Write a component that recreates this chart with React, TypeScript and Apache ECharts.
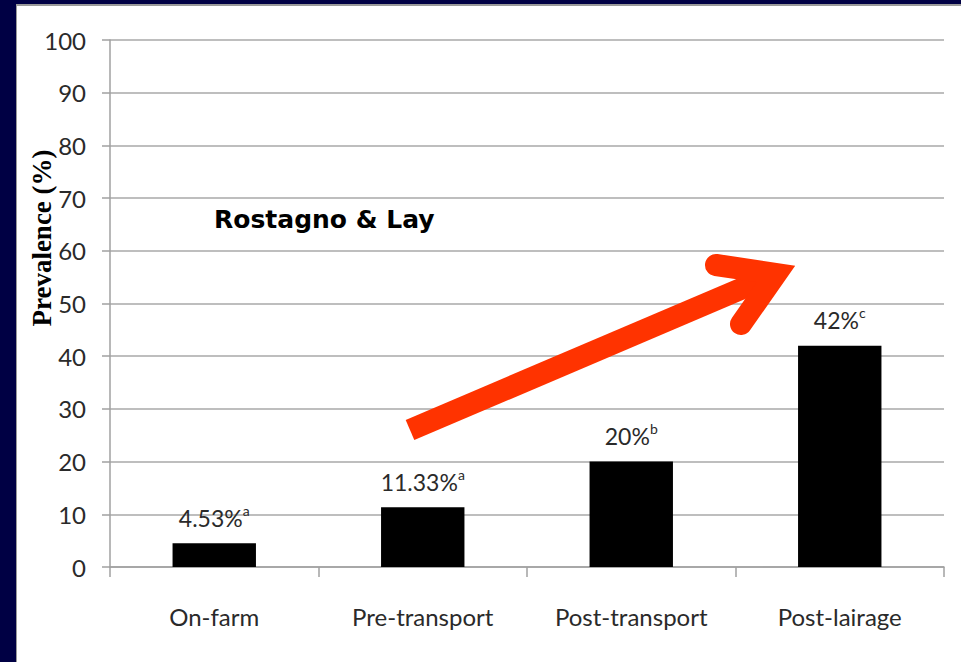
import React, { useEffect, useRef } from "react";
import * as echarts from "echarts";

const categories = ["On-farm", "Pre-transport", "Post-transport", "Post-lairage"];
const values = [4.53, 11.33, 20, 42];
const letters = ["a", "a", "b", "c"];
const yTicks = { min: 0, max: 100, interval: 10 };
const yAxisTitle = "Prevalence (%)";
const noteText = "Rostagno & Lay";

const FONT = "Lato, 'Open Sans', sans-serif";

export default function App() {
  const ref = useRef<HTMLDivElement>(null);
  useEffect(() => {
    document.body.style.margin = "0";
    if (!ref.current) return;
    const chart = echarts.init(ref.current, undefined, { renderer: "svg" });
    chart.setOption({
      animation: false,
      backgroundColor: "transparent",
      grid: { left: 110, right: 17, top: 40, bottom: 95 },
      xAxis: {
        type: "category",
        data: categories,
        axisLine: { show: true, lineStyle: { color: "#a0a0a0", width: 1.5 } },
        axisTick: { show: true, length: 10, lineStyle: { color: "#a0a0a0", width: 1.5 } },
        axisLabel: { color: "#2a2a2a", fontFamily: FONT, fontSize: 24, margin: 37 },
      },
      yAxis: {
        type: "value",
        min: yTicks.min,
        max: yTicks.max,
        interval: yTicks.interval,
        axisLine: { show: true, lineStyle: { color: "#a0a0a0", width: 1.5 } },
        axisTick: { show: true, length: 8, lineStyle: { color: "#a0a0a0", width: 1.5 } },
        axisLabel: { color: "#2a2a2a", fontFamily: FONT, fontSize: 24, margin: 24 },
        splitLine: { show: true, lineStyle: { color: "#a8a8a8", width: 1.5 } },
      },
      series: [
        {
          type: "bar",
          data: values,
          barWidth: "40%",
          itemStyle: { color: "#000" },
          label: {
            show: true,
            position: "top",
            distance: 14,
            formatter: (p: any) => `{v|${values[p.dataIndex]}%}{s|${letters[p.dataIndex]}}`,
            rich: {
              v: { fontFamily: FONT, fontSize: 23, color: "#2a2a2a", lineHeight: 26, verticalAlign: "bottom" },
              s: { fontFamily: FONT, fontSize: 14, color: "#2a2a2a", lineHeight: 14, verticalAlign: "top" },
            },
          },
        },
      ],
      graphic: [
        {
          type: "text",
          x: 42,
          y: 238,
          rotation: Math.PI / 2,
          style: {
            text: yAxisTitle,
            fontFamily: "'Liberation Serif', 'Times New Roman', serif",
            fontWeight: "bold",
            fontSize: 27,
            fill: "#000",
            align: "center",
            verticalAlign: "middle",
          },
        },
        {
          type: "text",
          x: 214,
          y: 219,
          style: {
            text: noteText,
            fontFamily: "'DejaVu Sans', Verdana, sans-serif",
            fontWeight: "bold",
            fontSize: 25,
            fill: "#000",
            align: "left",
            verticalAlign: "middle",
          },
        },
        {
          type: "line",
          shape: { x1: 410, y1: 430, x2: 776, y2: 274 },
          style: { stroke: "#ff3300", lineWidth: 22, lineCap: "butt" },
          z: 100,
        },
        {
          type: "polyline",
          shape: { points: [[716, 265], [776, 274], [741, 324]] },
          style: { stroke: "#ff3300", fill: null, lineWidth: 22, lineCap: "round", lineJoin: "miter", miterLimit: 10 },
          z: 100,
        },
      ],
    });
    return () => chart.dispose();
  }, []);
  return (
    <div style={{ position: "relative", width: 961, height: 662, background: "#000044", overflow: "hidden" }}>
      <div
        style={{
          position: "absolute",
          left: 16,
          top: 4,
          right: 0,
          bottom: 0,
          background: "#fff",
          borderTop: "2px solid #9a9a9a",
          borderLeft: "1px solid #9a9a9a",
        }}
      />
      <div ref={ref} style={{ position: "absolute", left: 0, top: 0, width: 961, height: 662 }} />
    </div>
  );
}
